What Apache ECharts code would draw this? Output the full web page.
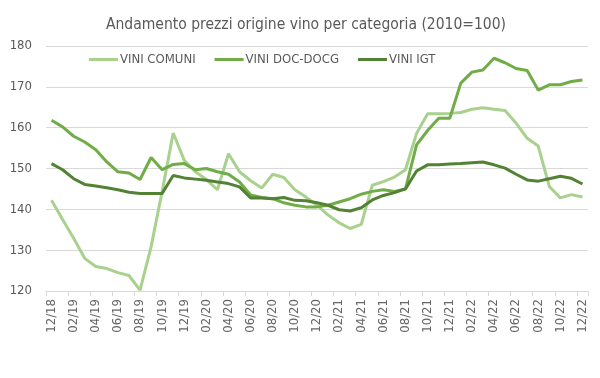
<!DOCTYPE html>
<html>
<head>
<meta charset="utf-8">
<script src="https://cdn.jsdelivr.net/npm/echarts@6/dist/echarts.min.js"></script>
<style>
  html, body { margin: 0; padding: 0; background: #fff; }
  #chart { width: 600px; height: 378px; }
</style>
</head>
<body>
<div id="chart"></div>
<script>
  var months = [
    '12/18', '01/19', '02/19', '03/19', '04/19', '05/19', '06/19', '07/19', '08/19', '09/19', '10/19', '11/19',
    '12/19', '01/20', '02/20', '03/20', '04/20', '05/20', '06/20', '07/20', '08/20', '09/20', '10/20', '11/20',
    '12/20', '01/21', '02/21', '03/21', '04/21', '05/21', '06/21', '07/21', '08/21', '09/21', '10/21', '11/21',
    '12/21', '01/22', '02/22', '03/22', '04/22', '05/22', '06/22', '07/22', '08/22', '09/22', '10/22', '11/22',
    '12/22'
  ];

  var viniComuni = [
    142.2, 137.5, 132.9, 128.0, 126.0, 125.5, 124.5, 123.8, 120.2, 130.8, 144.4, 158.7,
    152.0, 149.2, 147.3, 144.8, 153.6, 149.2, 147.0, 145.2, 148.6, 147.8, 144.8, 143.0,
    141.0, 138.6, 136.7, 135.3, 136.3, 145.9, 146.8, 147.9, 149.7, 158.6, 163.4, 163.4,
    163.5, 163.7, 164.5, 164.9, 164.5, 164.2, 161.1, 157.4, 155.5, 145.6, 142.8, 143.6,
    143.0
  ];

  var viniDoc = [
    161.8, 160.2, 157.9, 156.5, 154.6, 151.6, 149.2, 148.9, 147.3, 152.7, 149.7, 151.0,
    151.2, 149.7, 150.0, 149.2, 148.6, 146.7, 143.5, 142.9, 142.6, 141.6, 141.0, 140.6,
    140.6, 141.0, 141.8, 142.6, 143.7, 144.4, 144.8, 144.4, 145.0, 155.8, 159.3, 162.3,
    162.3, 170.9, 173.6, 174.1, 177.0, 175.9, 174.5, 174.0, 169.2, 170.5, 170.5, 171.3,
    171.7
  ];

  var viniIgt = [
    151.2, 149.7, 147.5, 146.1, 145.7, 145.3, 144.8, 144.2, 143.9, 143.9, 143.9, 148.3,
    147.7, 147.4, 147.1, 146.7, 146.3, 145.5, 142.8, 142.8, 142.6, 142.9, 142.2, 142.1,
    141.6, 141.0, 139.9, 139.6, 140.4, 142.3, 143.4, 144.1, 145.0, 149.4, 150.9, 150.9,
    151.1, 151.2, 151.4, 151.6, 150.9, 150.1, 148.6, 147.2, 146.9, 147.5, 148.1, 147.6,
    146.2
  ];

  var font = "'Liberation Sans Narrow', 'DejaVu Sans Condensed', 'Liberation Sans', sans-serif";

  var chart = echarts.init(document.getElementById('chart'));

  function lineSeries(name, data, color) {
    return {
      name: name,
      type: 'line',
      data: data,
      symbol: 'none',
      smooth: false,
      lineStyle: { width: 3, color: color },
      itemStyle: { color: color }
    };
  }

  chart.setOption({
    animation: false,
    title: {
      text: 'Andamento prezzi origine vino per categoria (2010=100)',
      left: 301,
      textAlign: 'center',
      top: 12,
      textStyle: { fontFamily: font, fontSize: 15.5, fontWeight: 'normal', color: '#595959' }
    },
    legend: {
      left: 84,
      top: 48,
      icon: 'rect',
      itemWidth: 29,
      itemHeight: 3,
      itemGap: 19,
      textStyle: { fontFamily: font, fontSize: 13, color: '#595959', padding: [0, 0, 0, -3] },
      data: ['VINI COMUNI', 'VINI DOC-DOCG', 'VINI IGT']
    },
    grid: { left: 46, right: 12, top: 46, bottom: 87 },
    xAxis: {
      type: 'category',
      data: months,
      boundaryGap: true,
      axisLine: { lineStyle: { color: '#D9D9D9', width: 1 } },
      axisTick: { show: true, interval: 1, length: 5, lineStyle: { color: '#D9D9D9' } },
      axisLabel: {
        interval: 1,
        rotate: 90,
        margin: 8,
        fontFamily: font,
        fontSize: 13,
        color: '#666666'
      },
      splitLine: { show: false }
    },
    yAxis: {
      type: 'value',
      min: 120,
      max: 180,
      interval: 10,
      axisLine: { show: false },
      axisTick: { show: false },
      axisLabel: { margin: 14, fontFamily: font, fontSize: 13, color: '#595959' },
      splitLine: { lineStyle: { color: '#D9D9D9', width: 1 } }
    },
    series: [
      lineSeries('VINI COMUNI', viniComuni, '#A9D18E'),
      lineSeries('VINI DOC-DOCG', viniDoc, '#70AD47'),
      lineSeries('VINI IGT', viniIgt, '#548235')
    ]
  });
</script>
</body>
</html>
